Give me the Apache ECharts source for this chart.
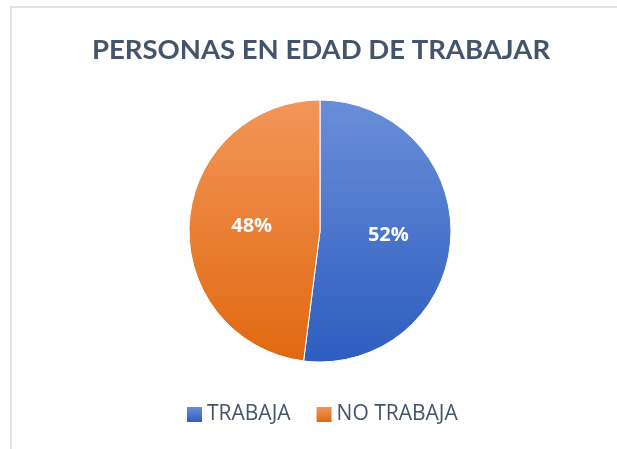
<!DOCTYPE html>
<html>
<head>
<meta charset="utf-8">
<script src="https://cdn.jsdelivr.net/npm/echarts@6/dist/echarts.min.js"></script>
<style>
  html, body { margin: 0; padding: 0; background: #fff; }
  #chart { width: 617px; height: 449px; }
</style>
</head>
<body>
<div id="chart"></div>
<script>
// Working-age population split
const categories = ['TRABAJA', 'NO TRABAJA'];
const shares = [52, 48];
const sliceColors = [
  ['#6a8ed8', '#2d5dc0'],
  ['#f29659', '#e1680f']
];

const chart = echarts.init(document.getElementById('chart'));

const grad = (top, bottom) => new echarts.graphic.LinearGradient(0, 0, 0, 1, [
  { offset: 0, color: top },
  { offset: 1, color: bottom }
]);

chart.setOption({
  animation: false,
  title: {
    text: 'PERSONAS EN EDAD DE TRABAJAR',
    left: 316,
    textAlign: 'center',
    top: 31,
    textStyle: {
      fontFamily: 'Lato',
      fontWeight: 'bold',
      fontSize: 27.5,
      color: '#44546a'
    }
  },
  legend: {
    top: 404,
    left: 187,
    padding: 0,
    itemWidth: 15,
    itemHeight: 15,
    itemGap: 26,
    icon: 'rect',
    itemStyle: { borderWidth: 0 },
    textStyle: {
      fontFamily: 'Open Sans',
      fontSize: 21,
      color: '#44546a'
    },
    data: categories
  },
  graphic: [{
    type: 'polyline',
    shape: { points: [[11, 449], [11, 7], [617, 7]] },
    style: { stroke: '#dfe3e8', lineWidth: 2, fill: null }
  }],
  series: [{
    type: 'pie',
    center: [320, 231],
    radius: [0, 131],
    startAngle: 90,
    clockwise: true,
    label: {
      position: 'inside',
      formatter: p => p.value + '%',
      color: '#fff',
      fontFamily: 'Open Sans',
      fontWeight: 'bold',
      fontSize: 20
    },
    labelLine: { show: false },
    itemStyle: { borderColor: '#fff', borderWidth: 1 },
    data: categories.map((name, i) => ({
      name,
      value: shares[i],
      itemStyle: { color: grad(sliceColors[i][0], sliceColors[i][1]) }
    }))
  }]
});
</script>
</body>
</html>
